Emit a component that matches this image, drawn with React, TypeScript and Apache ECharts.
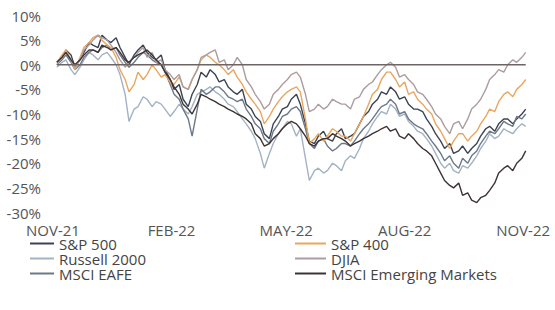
import React, { useEffect, useRef } from "react";
import * as echarts from "echarts";

// Twice-weekly observations (Thu / Mon), Nov 4 2021 .. Nov 3 2022
const DAY = 24 * 3600 * 1000;
const ORIGIN = Date.UTC(2021, 10, 1);
const START = Date.UTC(2021, 10, 4);
const dates: number[] = Array.from({ length: 105 }, (_, i) =>
  START + (Math.floor(i / 2) * 7 + (i % 2 === 1 ? 4 : 0)) * DAY
);

const seriesNames = ["S&P 500", "Russell 2000", "MSCI EAFE", "S&P 400", "DJIA", "MSCI Emerging Markets"];

const sp500 = [0.5, 1.5, 3, 2, -0.5, 1, 2.5, 4.5, 4, 3.5, 6, 5, 4.5, 5.5, 3.5, 1.5, 0, 2, 3, 4, 2.5, 1.5, 1, 2, -1, -3, -5, -4, -7, -8.5, -6, -4, -1.5, -2.5, -1, -2, -3.5, -3, -4.5, -5.5, -6, -5, -8, -9, -10.5, -11.5, -14, -15, -12, -10.5, -9, -8.5, -7, -6, -8, -12, -15.5, -16, -14.5, -13.5, -15, -15.5, -14, -13, -15, -14.5, -14, -12, -10.5, -9.5, -8, -7, -5.5, -6, -4.5, -5.5, -7, -6.5, -8, -9, -9, -9.5, -11, -12.5, -14, -15.5, -17, -16, -18, -17.5, -16.5, -18, -17, -16, -14.5, -13, -12.5, -13.5, -12, -11, -11, -12, -11, -10, -9];
const russell2000 = [-0.5, 0.5, 1, -1, -2, -0.5, 1, 2.5, 2, 1, 2, 2.5, 1.5, 0, -2, -6, -11.5, -9, -8.5, -6.5, -7, -8.5, -7.5, -8, -9, -10.5, -9.5, -8, -9, -10, -8.5, -6, -5.5, -5, -4.5, -5.5, -6, -7, -8, -8.5, -9.5, -11, -12, -13.5, -15, -18, -21, -18, -16, -14, -13, -11.5, -12, -14.5, -13, -19, -23.5, -21.5, -21, -22, -21.5, -20, -20.5, -21.5, -19.5, -18.5, -19, -17, -15, -13.5, -12, -10.5, -9.5, -10, -8, -9, -10.5, -10, -11.5, -12.5, -13.5, -14, -15, -16.5, -18, -20, -21, -20, -21.5, -22, -20.5, -21, -20, -18.5, -17, -15.5, -14, -15, -14.5, -13, -13.5, -14, -13, -12, -12.5];
const msciEafe = [0, 1, 2, 0.5, -1, 0, 1.5, 2.5, 3, 2.5, 3.5, 4, 3, 3.5, 2, 0.5, -0.5, 0.5, 1.5, 2.5, 2, 1, 0.5, 0, -1.5, -4, -6, -7, -9, -11, -14.5, -9, -5, -6, -5.5, -4.5, -4.5, -5.5, -6.5, -7, -7.5, -7, -9, -10.5, -12, -13, -15, -16, -13.5, -12, -10.5, -10, -9, -8.5, -9.5, -13, -16, -17, -15.5, -15, -16.5, -17.5, -17, -16, -16, -16.5, -15.5, -14, -13, -12, -11, -9.5, -8.5, -8, -7, -8, -10, -9.5, -11, -12, -12.5, -13, -14, -15.5, -16.5, -18, -19.5, -18.5, -20, -21, -19, -20, -18.5, -17.5, -16, -14.5, -13.5, -14, -13, -11.5, -12, -12.5, -10.5, -11, -10];
const sp400 = [0.5, 2, 3, 1, -1, 1.5, 3.5, 4.5, 5.5, 6, 5, 4, 3.5, 1.5, -1, -3, -5.5, -4, -1.5, -3, -2, 0, -1, -2.5, -2, -3.5, -4, -2.5, -4.5, -5, -3, -1, 1, 2, 1.5, 0.5, 0, -1, -2, -1, -2.5, -4, -5.5, -7, -8, -9.5, -12, -10.5, -9, -7.5, -6.5, -5.5, -5, -4.5, -5.5, -11, -16, -15, -14, -15.5, -14.5, -13, -13.5, -14.5, -14.5, -15.5, -14, -12, -10.5, -8, -6, -5, -3, -1.5, -1.5, -3, -4.5, -3.5, -6, -5.5, -7, -8, -9, -10, -12, -13.5, -15, -17, -15.5, -14, -14, -15.5, -14.5, -13.5, -12, -10.5, -9, -9.5, -7.5, -6, -5.5, -6.5, -5, -4, -3];
const djia = [0, 1.5, 2.5, 1, -0.5, 1, 3, 4, 5, 6, 5.5, 5, 4, 2.5, 1, -0.5, 0.5, 1.5, 2.5, 3.5, 1.5, 2.5, 0.5, 1, -1, -2, -3, -2, -4.5, -5, -3, -1, 1.5, 2, 2.5, 3, 0.5, 1, -1, 0, 1.5, 0, -3, -4.5, -6, -7.5, -9, -8, -6, -5, -4, -3, -2, -1.5, -2.5, -6, -9.5, -9, -8, -9, -8.5, -7, -7.5, -8, -8, -9, -7, -6.5, -5, -4, -3.5, -2, -1, 0, 0.5, -0.5, -2.5, -2, -3, -4, -5.5, -6, -7, -8.5, -10, -11, -12.5, -14, -12, -11.5, -13, -11, -9, -8, -7, -5, -3, -2, -1, -1.5, 0, 1, 0.5, 1.5, 2.5];
const msciEm = [0.5, 1.5, 2.5, 1, 0, 1, 2, 3, 3, 2.5, 4, 3.5, 3, 3.5, 2.5, 1, 0.5, 1.5, 2, 2.5, 3, 2, 1, 0, -1.5, -3, -4.5, -6, -8, -9, -10, -8, -6, -6.5, -7, -7.5, -8, -8.5, -9, -9.5, -10, -10.5, -11, -12, -14, -15, -16.5, -16, -15, -14, -13, -12, -11.5, -12, -13, -14.5, -16, -16.5, -15.5, -15, -15, -14, -14.5, -15, -15.5, -16.5, -16, -15.5, -15, -14.5, -14, -13.5, -13, -12.5, -13.5, -13, -14.5, -15, -14, -15, -16, -17, -17.5, -18.5, -20, -22, -23.5, -24.5, -25, -24, -26.5, -26, -27.5, -28, -27, -26.5, -25.5, -24, -22, -21, -20.5, -21.5, -20, -19, -17.5];

const seriesValues = [sp500, russell2000, msciEafe, sp400, djia, msciEm];
const seriesColors = ["#3b4352", "#a3b2c4", "#6c7889", "#e9a65e", "#ad9c9f", "#3d3334"];

const xTickDates = [Date.UTC(2021, 10, 1), Date.UTC(2022, 1, 1), Date.UTC(2022, 4, 1), Date.UTC(2022, 7, 1), Date.UTC(2022, 10, 1)];
const xTickLabels = ["NOV-21", "FEB-22", "MAY-22", "AUG-22", "NOV-22"];

const toDay = (t: number) => Math.round((t - ORIGIN) / DAY);

export default function App() {
  const ref = useRef<HTMLDivElement>(null);
  useEffect(() => {
    if (!ref.current) return;
    const chart = echarts.init(ref.current, undefined, { renderer: "svg" });
    const font = "'Open Sans', 'Noto Sans', sans-serif";
    const tickDays = xTickDates.map(toDay);
    const lineSeries = seriesNames.map((name, i) => ({
      name,
      type: "line",
      data: dates.map((d, j) => [toDay(d), seriesValues[i][j]]),
      showSymbol: false,
      symbol: "none",
      lineStyle: { width: 1.4, color: seriesColors[i] },
      itemStyle: { color: seriesColors[i] },
      z: 2,
    }));
    const legendText = { fontSize: 15, lineHeight: 14, color: "#444444", fontFamily: font };
    chart.setOption({
      animation: false,
      backgroundColor: "#ffffff",
      grid: { left: 53, right: 28, top: 15.5, bottom: 310 - 212.5, containLabel: false },
      xAxis: {
        type: "value",
        min: 0,
        max: toDay(Date.UTC(2022, 10, 4)),
        axisLine: { show: false },
        axisTick: { show: false },
        splitLine: { show: false },
        axisLabel: {
          customValues: tickDays,
          showMinLabel: true,
          showMaxLabel: true,
          margin: 10,
          color: "#555555",
          fontSize: 15,
          fontFamily: font,
          formatter: (v: number) => {
            const idx = tickDays.indexOf(Math.round(v));
            return idx >= 0 ? xTickLabels[idx] : "";
          },
        },
      },
      yAxis: {
        type: "value",
        min: -30,
        max: 10,
        interval: 5,
        axisLine: { show: false },
        axisTick: { show: false },
        splitLine: { show: false },
        axisLabel: { formatter: "{value}%", color: "#555555", fontSize: 15, fontFamily: font, margin: 12 },
      },
      legend: [
        {
          data: seriesNames.slice(0, 3),
          orient: "vertical",
          left: 30,
          top: 236,
          padding: 0,
          itemWidth: 24,
          itemHeight: 2,
          itemGap: 0,
          icon: "rect",
          textStyle: legendText,
        },
        {
          data: seriesNames.slice(3),
          orient: "vertical",
          left: 295,
          top: 236,
          padding: 0,
          itemWidth: 31,
          itemHeight: 2,
          itemGap: 0,
          icon: "rect",
          textStyle: legendText,
        },
      ],
      series: [
        ...lineSeries,
        {
          name: "zero",
          type: "line",
          data: [[toDay(dates[0]), 0], [toDay(dates[dates.length - 1]), 0]],
          showSymbol: false,
          symbol: "none",
          lineStyle: { width: 1.5, color: "#6e6464" },
          z: 3,
          silent: true,
        },
      ],
    });
    return () => chart.dispose();
  }, []);
  return <div ref={ref} style={{ width: 555, height: 310, position: "absolute", left: 0, top: 0 }} />;
}
